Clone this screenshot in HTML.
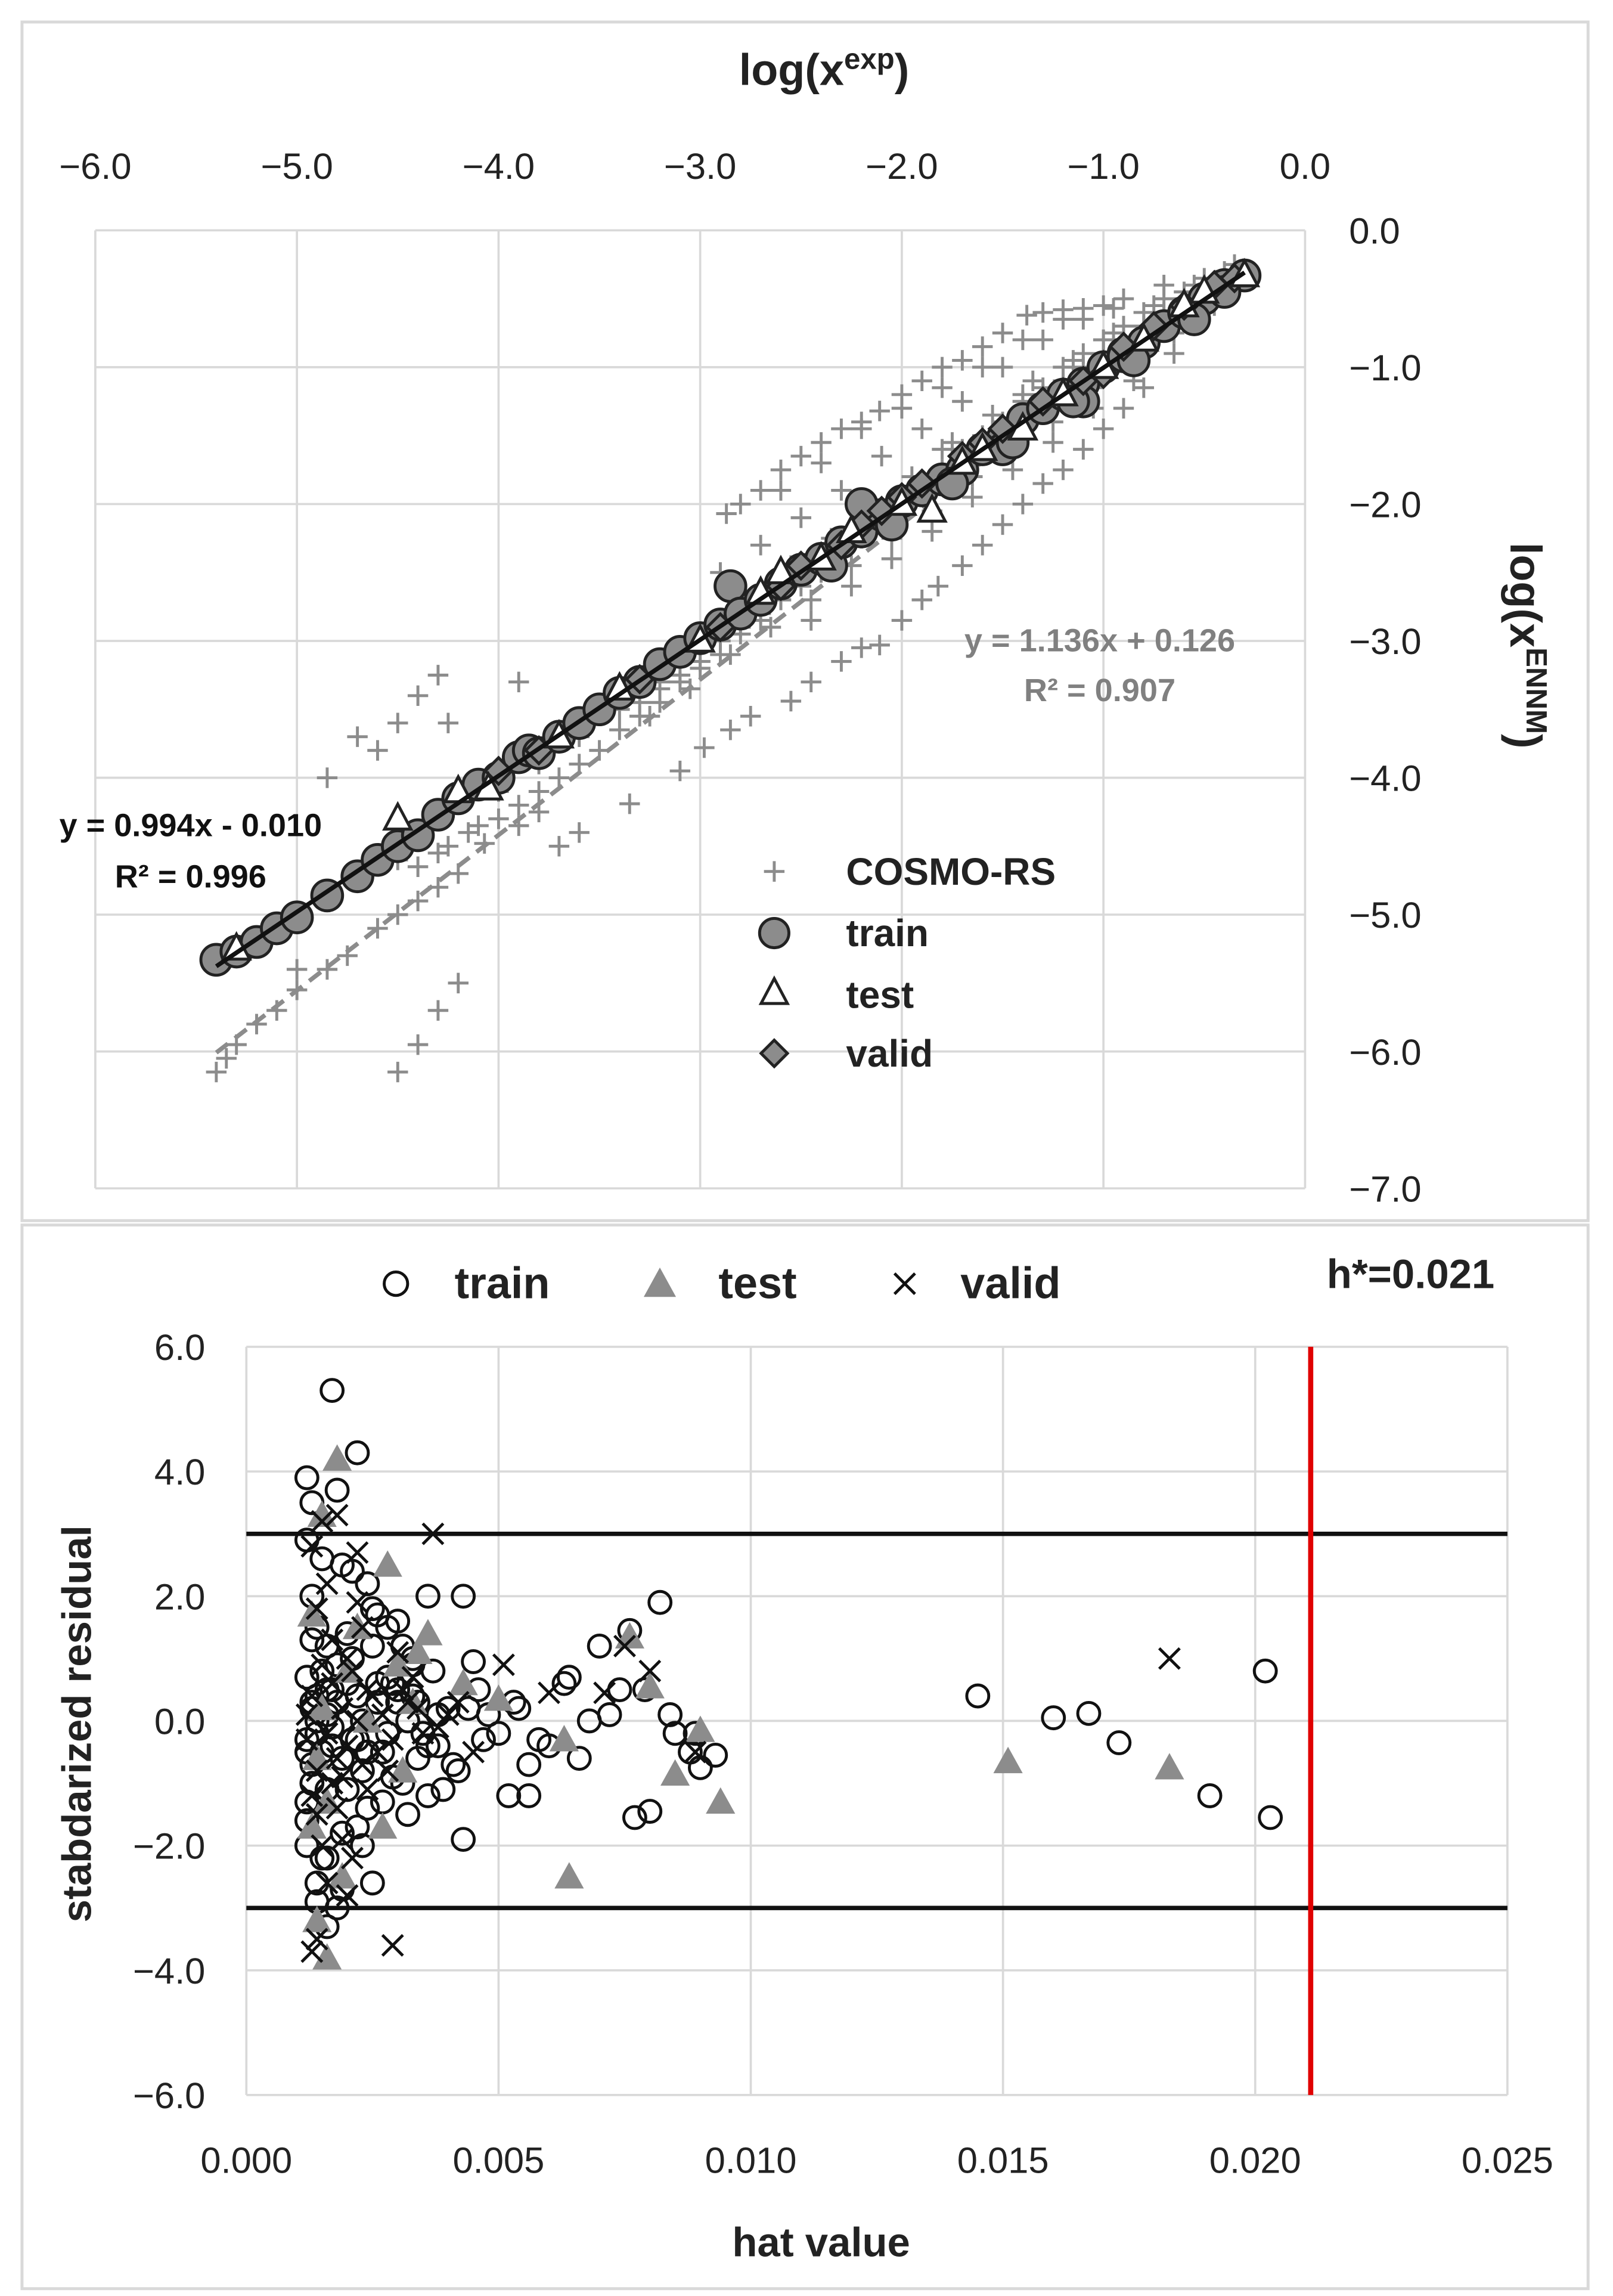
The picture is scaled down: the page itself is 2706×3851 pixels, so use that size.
<!DOCTYPE html>
<html><head><meta charset="utf-8"><style>
html,body{margin:0;padding:0;background:#fff}
svg{display:block}
text{font-family:"Liberation Sans","DejaVu Sans",sans-serif}
</style></head><body>
<svg id="root" width="2706" height="3851" viewBox="0 0 1100 1565" preserveAspectRatio="none" xmlns="http://www.w3.org/2000/svg">
<rect x="0" y="0" width="1100" height="1565" fill="#fff"/>
<rect x="15" y="15" width="1068" height="817" fill="none" stroke="#d9d9d9" stroke-width="2"/>
<rect x="15" y="835" width="1068" height="725" fill="none" stroke="#d9d9d9" stroke-width="2"/>
<g id="topchart"></g>
<g id="botchart"></g>
</svg>
<script>
// ---------- TOP CHART DATA ----------
const topXTicks = ["−6.0","−5.0","−4.0","−3.0","−2.0","−1.0","0.0"];
const topXTickVals = [-6,-5,-4,-3,-2,-1,0];
const topYTicks = ["0.0","−1.0","−2.0","−3.0","−4.0","−5.0","−6.0","−7.0"];
const topYTickVals = [0,-1,-2,-3,-4,-5,-6,-7];
const cosmoX = [-5.4,-5.35,-5.3,-5.2,-5.1,-5.0,-4.85,-4.75,-4.6,-4.5,-4.4,-4.3,-4.2,-4.4,-4.3,-4.5,-4.25,-4.15,-4.1,-4.0,-3.9,-3.8,-3.7,-3.6,-3.5,-3.4,-3.3,-3.2,-3.1,-3.0,-2.9,-2.8,-2.7,-2.6,-2.5,-2.4,-2.3,-2.2,-2.1,-2.0,-1.9,-1.8,-1.7,-1.6,-1.5,-1.4,-1.3,-1.2,-1.1,-1.0,-0.9,-0.8,-0.7,-0.6,-0.5,-0.4,-0.3,
 -4.3,-4.4,-4.5,-4.7,-4.85,-4.6,-4.25,-3.9,-5.0,-4.5,-4.4,-4.3,-4.2,-3.7,-3.6,-3.35,-3.1,-2.98,-2.85,-2.75,-2.55,-2.45,-2.3,-2.2,-2.11,-2.0,-1.9,-1.82,-1.7,-1.6,-1.5,-1.4,-1.3,-1.2,-1.1,-1.0,-0.9,-0.8,-4.07,-3.9,-3.8,
 -2.87,-2.8,-2.7,-2.6,-2.5,-2.4,-2.3,-2.2,-2.11,-2.0,-1.9,-1.8,-1.7,-1.6,-1.5,-1.38,-1.3,-1.2,-1.1,-0.95,-2.6,-2.4,-2.2,-2.0,-1.8,-1.6,-1.4,-1.2,-1.0,
 -2.9,-2.7,-2.5,-2.3,-2.1,-1.9,-1.7,-1.5,-1.3,-1.1,-0.9,-0.7,-0.5,-0.4,-2.6,-2.2,-1.8,-1.4,-1.0,-0.6,-3.2,-3.4,-3.6,-3.8,-4.0,
 -3.3,-3.2,-3.1,-3.0,-2.9,-2.8,-2.7,-2.6,-2.5,-2.4,-2.3,-2.2,-2.1,-2.0,-1.9,-1.8,-1.7,-1.6,-1.5,-1.4,-1.3,-1.2,-1.1,-1.0,-0.9,-0.8,-0.7,-0.6,-0.5,-0.4,
 -3.25,-3.05,-2.85,-2.65,-2.45,-2.25,-2.05,-1.85,-1.65,-1.45,-1.25,-1.05,-0.85,-0.65,-0.45,
 -2.95,-2.75,-2.55,-2.35,-2.15,-1.95,-1.75,-1.55,-1.35,-1.15,-0.95,-0.75,-0.55,-0.35,
 -2.45,-2.25,-2.05,-1.85,-1.65,-1.45,-1.25,-1.05,-0.85,-0.65];
const cosmoY = [-6.15,-6.05,-5.95,-5.8,-5.7,-5.55,-5.4,-5.3,-5.1,-5.0,-4.9,-4.8,-4.7,-4.65,-4.55,-4.6,-4.5,-4.4,-4.35,-4.3,-4.2,-4.1,-4.0,-3.9,-3.8,-3.65,-3.55,-3.45,-3.3,-3.2,-3.1,-2.95,-2.85,-2.7,-2.6,-2.5,-2.35,-2.25,-2.1,-2.0,-1.85,-1.75,-1.6,-1.5,-1.4,-1.25,-1.15,-1.0,-0.9,-0.8,-0.7,-0.6,-0.5,-0.45,-0.4,-0.35,-0.3,
 -3.25,-3.4,-3.6,-3.7,-4.0,-3.8,-3.6,-3.3,-5.4,-6.15,-5.95,-5.7,-5.5,-4.5,-4.4,-4.19,-3.95,-3.78,-3.65,-3.55,-3.44,-3.3,-3.15,-3.05,-3.03,-2.85,-2.7,-2.6,-2.45,-2.3,-2.15,-2.0,-1.85,-1.75,-1.6,-1.45,-1.3,-1.15,-4.48,-4.35,-4.25,
 -2.07,-2.0,-1.9,-1.75,-1.65,-1.55,-1.45,-1.4,-1.32,-1.2,-1.1,-1.0,-0.95,-0.85,-0.75,-0.62,-0.6,-0.58,-0.57,-0.57,-1.9,-1.7,-1.45,-1.3,-1.15,-1.0,-0.8,-0.65,-0.55,
 -2.5,-2.3,-2.1,-1.9,-1.65,-1.45,-1.25,-1.0,-0.8,-0.65,-0.5,-0.4,-0.35,-0.3,-2.55,-2.05,-1.6,-1.2,-0.8,-0.5,-3.3,-3.5,-3.7,-3.9,-4.1,
 -3.45,-3.35,-3.25,-3.15,-3.0,-2.9,-2.8,-2.7,-2.55,-2.45,-2.35,-2.25,-2.1,-2.0,-1.9,-1.8,-1.65,-1.55,-1.45,-1.35,-1.2,-1.1,-1.0,-0.9,-0.8,-0.7,-0.6,-0.5,-0.45,-0.35,
 -3.55,-3.35,-3.1,-2.9,-2.7,-2.45,-2.25,-2.05,-1.8,-1.6,-1.4,-1.15,-0.95,-0.75,-0.55,
 -2.95,-2.7,-2.45,-2.25,-2.0,-1.8,-1.55,-1.35,-1.1,-0.95,-0.75,-0.55,-0.4,-0.25,
 -2.85,-2.6,-2.4,-2.2,-1.95,-1.75,-1.55,-1.3,-1.1,-0.9];
const trainX = [-5.4,-5.3,-5.2,-5.1,-5.0,-4.85,-4.7,-4.6,-4.5,-4.4,-4.3,-4.2,-4.1,-4.0,-3.9,-3.85,-3.8,-3.7,-3.6,-3.5,-3.4,-3.3,-3.2,-3.1,-3.0,-2.9,-2.85,-2.8,-2.7,-2.6,-2.5,-2.4,-2.3,-2.2,-2.1,-2.0,-1.9,-1.8,-1.7,-1.6,-1.5,-1.4,-1.3,-1.2,-1.1,-1.0,-0.9,-0.8,-0.7,-0.6,-0.5,-0.4,-0.3,-0.9,-1.5,-2.2,-1.1,-0.4,-2.35,-2.05,-1.75,-1.45,-1.15,-0.85,-0.55];
const trainY = [-5.33,-5.27,-5.2,-5.1,-5.02,-4.86,-4.72,-4.6,-4.5,-4.42,-4.27,-4.15,-4.05,-4.0,-3.85,-3.8,-3.82,-3.7,-3.6,-3.5,-3.38,-3.3,-3.17,-3.08,-2.98,-2.88,-2.6,-2.8,-2.7,-2.58,-2.48,-2.4,-2.28,-2.2,-2.08,-1.98,-1.9,-1.82,-1.75,-1.6,-1.52,-1.38,-1.3,-1.2,-1.12,-1.0,-0.9,-0.82,-0.7,-0.6,-0.5,-0.4,-0.33,-0.92,-1.6,-2.0,-1.25,-0.45,-2.45,-2.15,-1.85,-1.55,-1.25,-0.95,-0.65];
const testX = [-5.3,-4.5,-4.2,-4.05,-3.7,-3.4,-3.0,-2.7,-2.4,-2.25,-2.0,-1.85,-1.6,-1.4,-1.2,-1.0,-0.8,-0.5,-0.3,-2.6,-1.7,-0.6];
const testY = [-5.25,-4.3,-4.1,-4.08,-3.7,-3.35,-3.0,-2.65,-2.4,-2.2,-2.0,-2.05,-1.6,-1.45,-1.2,-1.0,-0.8,-0.45,-0.33,-2.5,-1.7,-0.55];
const validX = [-4.0,-3.8,-3.3,-2.9,-2.6,-2.5,-2.3,-2.1,-2.0,-1.9,-1.7,-1.5,-1.3,-1.1,-0.9,-0.75,-0.6,-0.45,-0.35,-1.6,-2.2,-1.0];
const validY = [-3.95,-3.8,-3.28,-2.9,-2.6,-2.45,-2.3,-2.05,-1.95,-1.85,-1.65,-1.45,-1.25,-1.1,-0.85,-0.7,-0.55,-0.4,-0.35,-1.55,-2.15,-1.05];
const trainFit = [0.994,-0.010];
const cosmoFit = [1.136,0.126];
const fitRange = [-5.4,-0.3];

// ---------- BOTTOM CHART DATA ----------
const botXTicks = ["0.000","0.005","0.010","0.015","0.020","0.025"];
const botXTickVals = [0,0.005,0.010,0.015,0.020,0.025];
const botYTicks = ["6.0","4.0","2.0","0.0","−2.0","−4.0","−6.0"];
const botYTickVals = [6,4,2,0,-2,-4,-6];
const hTrainX = [0.0017,0.0022,0.0012,0.0018,0.0013,0.0012,0.0015,0.0013,0.0014,0.0016,0.0019,0.0021,0.0024,0.0025,0.0026,0.0028,0.0030,0.0031,0.0033,0.0036,0.0037,0.0043,0.0044,0.0045,0.0046,0.0048,0.0050,0.0052,0.0054,0.0056,0.0058,0.0060,0.0063,0.0064,0.0066,0.0068,0.0070,0.0072,0.0074,0.0077,0.0080,0.0082,0.0084,0.0085,0.0088,0.0090,0.0093,0.0043,0.0053,0.0056,0.0024,0.0022,0.0025,0.0027,0.0029,0.0032,0.0034,0.0039,0.0041,0.0020,0.0023,0.0019,0.0015,0.0013,0.0012,0.0014,0.0016,0.0018,0.0021,0.0026,0.0030,0.0035,0.0038,0.0040,0.0042,0.0047,0.0033,0.0028,0.0022,0.0017,0.0013,0.0012,0.0014,0.0016,0.0019,0.0023,0.0027,0.0031,0.0036,0.0145,0.0160,0.0167,0.0173,0.0191,0.0203,0.0202,0.0076,0.0079,0.0089,
 0.0012,0.0012,0.0012,0.0013,0.0013,0.0013,0.0014,0.0014,0.0015,0.0015,0.0016,0.0016,0.0017,0.0017,0.0018,0.0019,0.0020,0.0021,0.0022,0.0023,0.0024,0.0026,0.0028,0.0030,0.0032,0.0034,0.0036,0.0038,0.0020,0.0025,0.0029,0.0033,0.0012,0.0014,0.0016,0.0018];
const hTrainY = [5.3,4.3,3.9,3.7,3.5,2.9,2.6,2.0,1.5,1.2,2.5,2.4,2.2,1.8,1.7,1.5,1.6,1.2,1.0,2.0,0.8,2.0,0.2,0.95,0.5,0.1,-0.2,-1.2,0.2,-1.2,-0.3,-0.4,0.6,0.7,-0.6,0.0,1.2,0.1,0.5,-1.55,-1.45,1.9,0.1,-0.2,-0.5,-0.75,-0.55,-1.9,0.3,-0.7,-1.4,-1.7,-2.6,-1.3,-0.9,-1.5,-0.6,-1.1,-0.7,-1.1,-2.0,-2.7,-2.2,-1.0,-0.5,0.0,0.5,0.9,1.0,0.6,0.3,-0.2,-0.4,0.2,-0.8,-0.3,0.9,0.7,-0.3,-0.1,0.3,-1.6,-2.6,-2.2,-1.8,-0.8,-0.5,-1.0,-1.2,0.4,0.05,0.12,-0.35,-1.2,-1.55,0.8,1.45,0.5,-0.2,
 0.7,-0.3,-1.3,0.2,-0.7,1.3,0.4,-0.2,0.8,-0.5,0.1,-1.1,0.5,-0.4,0.3,-0.6,0.6,-0.3,0.4,0.0,-0.5,0.3,-0.2,0.5,0.0,0.3,-0.4,0.1,1.4,1.2,0.6,0.4,-2.0,-2.9,-3.3,-3.0];
const hTestX = [0.0018,0.0015,0.0028,0.0036,0.0034,0.0043,0.0050,0.0063,0.0064,0.0076,0.0080,0.0085,0.0090,0.0094,0.0151,0.0183,0.0016,0.0014,0.0013,0.0022,0.0027,0.0030,0.0031,0.0019,0.0015,0.0013,0.0016,0.0024,0.0033,0.0014,0.0020];
const hTestY = [4.2,3.3,2.5,1.4,1.1,0.6,0.35,-0.3,-2.5,1.35,0.55,-0.85,-0.15,-1.3,-0.65,-0.75,-3.8,-3.2,-1.7,1.5,-1.7,0.9,-0.8,-2.5,0.2,1.7,-1.3,0.0,0.3,-0.6,0.8];
const hValidX = [0.0013,0.0015,0.0018,0.0022,0.0037,0.0051,0.0060,0.0071,0.0075,0.0080,0.0089,0.0183,0.0029,0.0013,0.0014,0.0016,0.0019,0.0021,0.0024,0.0026,0.0032,0.0035,0.0040,0.0045,0.0020,0.0017,0.0014,0.0012,0.0023,0.0028,0.0033,
 0.0012,0.0013,0.0014,0.0015,0.0016,0.0017,0.0018,0.0019,0.0020,0.0021,0.0022,0.0023,0.0025,0.0027,0.0029,0.0031,0.0034,0.0038,0.0042,0.0014,0.0016,0.0018,0.0020,0.0022,0.0013,0.0015,0.0017,0.0019,0.0024,0.0030];
const hValidY = [-3.7,3.2,3.3,2.7,3.0,0.9,0.45,0.45,1.2,0.8,-0.5,1.0,-3.6,2.8,-3.5,-2.6,-1.9,-2.2,0.5,-0.5,0.3,-0.2,0.1,-0.5,1.0,-1.0,-1.5,0.1,1.5,-0.8,0.7,
 -0.3,0.4,-0.8,0.9,-0.2,0.6,-0.6,0.2,-0.4,0.8,0.0,-0.7,0.4,0.1,-0.3,0.5,0.2,-0.1,0.3,1.8,2.2,-1.4,-2.8,1.9,-1.2,-2.0,1.3,-0.9,-1.1,1.1];
const hCritical = [0.0211];
const residLimits = [3,-3];

const NS="http://www.w3.org/2000/svg";
function mk(parent,tag,attrs){const e=document.createElementNS(NS,tag);for(const k in attrs)e.setAttribute(k,attrs[k]);parent.appendChild(e);return e;}
function txt(parent,x,y,s,size,weight,anchor,fill){const t=mk(parent,'text',{x:x,y:y,'font-size':size,'font-weight':weight||'normal','text-anchor':anchor||'middle',fill:fill||'#222'});t.textContent=s;return t;}

// ===== TOP =====
const topG=document.getElementById('topchart');
const TL=65,TR=890,TT=157,TB=810;
const tx=v=>TL+(v+6)/6*(TR-TL);
const ty=v=>TT+(-v)/7*(TB-TT);
topXTickVals.forEach((v,i)=>{
  const g=mk(topG,'line',{x1:tx(v),x2:tx(v),y1:TT,y2:TB,stroke:'#d9d9d9','stroke-width':1.5});
  
  
  const t=txt(topG,tx(v),122,topXTicks[i],25,'normal','middle','#222');
  
  
});
topYTickVals.forEach((v,i)=>{
  const g=mk(topG,'line',{x1:TL,x2:TR,y1:ty(v),y2:ty(v),stroke:'#d9d9d9','stroke-width':1.5});
  
  
  const t=txt(topG,920,ty(v)+9,topYTicks[i],25,'normal','start','#222');
  
  
});
{const t=txt(topG,562,58,'',30,'bold','middle','#222');t.innerHTML='log(x<tspan font-size="20" dy="-11">exp</tspan><tspan dy="11">)</tspan>';
}
{const t=txt(topG,0,0,'',30,'bold','middle','#222');t.setAttribute('transform','translate(1030,440) rotate(90)');
t.innerHTML='log(x<tspan font-size="20" dy="-11">ENNM</tspan><tspan dy="11">)</tspan>';
}
cosmoX.forEach((x,i)=>{
  const p=mk(topG,'path',{d:`M${tx(x)-7},${ty(cosmoY[i])}h14M${tx(x)},${ty(cosmoY[i])-7}v14`,stroke:'#8c8c8c','stroke-width':2});
  
  
});
{const l=mk(topG,'line',{x1:tx(fitRange[0]),y1:ty(cosmoFit[0]*fitRange[0]+cosmoFit[1]),x2:tx(fitRange[1]),y2:ty(cosmoFit[0]*fitRange[1]+cosmoFit[1]),stroke:'#8c8c8c','stroke-width':3,'stroke-dasharray':'10,6'});
}
trainX.forEach((x,i)=>{
  const c=mk(topG,'circle',{cx:tx(x),cy:ty(trainY[i]),r:10.5,fill:'#8c8c8c',stroke:'#222','stroke-width':2});
  
  
});
validX.forEach((x,i)=>{
  const X=tx(x),Y=ty(validY[i]);
  const d=mk(topG,'path',{d:`M${X},${Y-9}L${X+9},${Y}L${X},${Y+9}L${X-9},${Y}Z`,fill:'#8c8c8c',stroke:'#222','stroke-width':2});
  
  
});
testX.forEach((x,i)=>{
  const X=tx(x),Y=ty(testY[i]);
  const d=mk(topG,'path',{d:`M${X},${Y-10}L${X+9},${Y+7}L${X-9},${Y+7}Z`,fill:'#fff',stroke:'#222','stroke-width':2});
  
  
});
{const l=mk(topG,'line',{x1:tx(fitRange[0]),y1:ty(trainFit[0]*fitRange[0]+trainFit[1]),x2:tx(fitRange[1]),y2:ty(trainFit[0]*fitRange[1]+trainFit[1]),stroke:'#111','stroke-width':3});
}
{const t=txt(topG,750,444,'y = 1.136x + 0.126',22,'bold','middle','#808080');
const t2=txt(topG,750,478,'R² = 0.907',22,'bold','middle','#808080');
const t3=txt(topG,130,570,'y = 0.994x - 0.010',22,'bold','middle','#111');
const t4=txt(topG,130,605,'R² = 0.996',22,'bold','middle','#111');}
{const lg=mk(topG,'g',{});
mk(lg,'path',{d:'M521,594h14M528,587v14',stroke:'#8c8c8c','stroke-width':2});
mk(lg,'circle',{cx:528,cy:636,r:10,fill:'#8c8c8c',stroke:'#222','stroke-width':2});
mk(lg,'path',{d:'M528,667L537,684L519,684Z',fill:'#fff',stroke:'#222','stroke-width':2});
mk(lg,'path',{d:'M528,709L537,718L528,727L519,718Z',fill:'#8c8c8c',stroke:'#222','stroke-width':2});
['COSMO-RS','train','test','valid'].forEach((s,i)=>{txt(lg,577,[603,645,687,727][i],s,26,'bold','start','#222');});}

// ===== BOTTOM =====
const botG=document.getElementById('botchart');
const BL=168,BR=1028,BT=918,BB=1428;
const bx=v=>BL+v/0.025*(BR-BL);
const by=v=>BT+(6-v)/12*(BB-BT);
botXTickVals.forEach((v,i)=>{
  const g=mk(botG,'line',{x1:bx(v),x2:bx(v),y1:BT,y2:BB,stroke:'#d9d9d9','stroke-width':1.5});
  
  
  const t=txt(botG,bx(v),1481,botXTicks[i],25,'normal','middle','#222');
  
  
});
botYTickVals.forEach((v,i)=>{
  const g=mk(botG,'line',{x1:BL,x2:BR,y1:by(v),y2:by(v),stroke:'#d9d9d9','stroke-width':1.5});
  
  
  const t=txt(botG,140,by(v)+9,botYTicks[i],25,'normal','end','#222');
  
  
});
residLimits.forEach(v=>{
  const l=mk(botG,'line',{x1:BL,x2:BR,y1:by(v),y2:by(v),stroke:'#111','stroke-width':3});
  
  
});
{const l=mk(botG,'line',{x1:bx(hCritical[0]),x2:bx(hCritical[0]),y1:BT,y2:BB,stroke:'#e00000','stroke-width':3.5});
}
hTrainX.forEach((x,i)=>{
  const c=mk(botG,'circle',{cx:bx(x),cy:by(hTrainY[i]),r:7.5,fill:'none',stroke:'#111','stroke-width':2});
  
  
});
hTestX.forEach((x,i)=>{
  const X=bx(x),Y=by(hTestY[i]);
  const d=mk(botG,'path',{d:`M${X},${Y-10}L${X+10},${Y+8}L${X-10},${Y+8}Z`,fill:'#8c8c8c'});
  
  
});
hValidX.forEach((x,i)=>{
  const X=bx(x),Y=by(hValidY[i]);
  const d=mk(botG,'path',{d:`M${X-7},${Y-7}L${X+7},${Y+7}M${X+7},${Y-7}L${X-7},${Y+7}`,stroke:'#111','stroke-width':2});
  
  
});
{const lg=mk(botG,'g',{});
mk(lg,'circle',{cx:270,cy:875,r:8,fill:'none',stroke:'#111','stroke-width':2});
txt(lg,310,885,'train',30,'bold','start','#222');
mk(lg,'path',{d:'M450,864L461,884L439,884Z',fill:'#8c8c8c'});
txt(lg,490,885,'test',30,'bold','start','#222');
mk(lg,'path',{d:'M610,868L624,882M624,868L610,882',stroke:'#111','stroke-width':2});
txt(lg,655,885,'valid',30,'bold','start','#222');}
{const t=txt(botG,962,878,'h*=0.021',28,'bold','middle','#222');
const t2=txt(botG,560,1538,'hat value',28,'bold','middle','#222');
const t3=txt(botG,0,0,'stabdarized residual',28,'bold','middle','#222');t3.setAttribute('transform','translate(62,1175) rotate(-90)');
}
</script>
</body></html>
